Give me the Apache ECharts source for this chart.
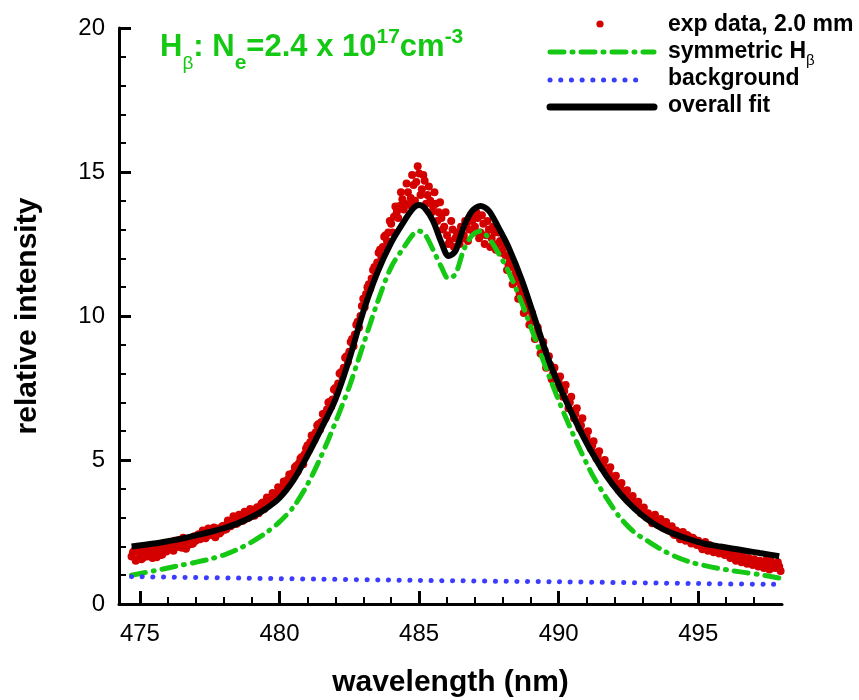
<!DOCTYPE html>
<html><head><meta charset="utf-8">
<script src="https://cdn.jsdelivr.net/npm/echarts@6/dist/echarts.min.js"></script>
<style>html,body{margin:0;padding:0;background:#fff}#chart{width:859px;height:700px}</style>
</head><body><div id="chart"></div>
<script>
// ---- data ----
const expStartA = 474.7, expStartB = 474.75, expStep = 0.1;   // wavelength sampling of the measured spectrum (nm)
const expIntensityA = [
  1.65, 1.85, 1.55,
  1.75, 1.6, 1.9, 1.7, 1.82, 1.95, 1.62, 1.88, 1.72, 2.0,
  1.9, 2.12, 1.85, 2.05, 2.22, 1.95, 2.15, 2.02, 2.28, 2.1,
  2.2, 2.42, 2.3, 2.5, 2.36, 2.58, 2.44, 2.32, 2.62, 2.5,
  2.72, 2.6, 2.86, 2.75, 2.96, 2.82, 3.02, 2.9, 3.12, 3.0,
  3.22, 3.06, 3.36, 3.25, 3.52, 3.42, 3.66, 3.55, 3.82, 3.7,
  3.96, 4.06, 4.2, 4.32, 4.5, 4.56, 4.8, 4.9, 5.1, 5.2,
  5.5, 5.62, 5.85, 5.96, 6.25, 6.32, 6.6, 6.75, 7.02, 7.1,
  7.5, 7.66, 8.05, 8.2, 8.6, 8.76, 9.2, 9.36, 9.8, 10.0,
  10.6, 10.76, 11.1, 11.3, 11.7, 11.86, 12.3, 12.4, 12.8, 12.9,
  13.2, 13.45, 13.6, 13.82, 14.05, 13.9, 14.3, 14.1, 14.55, 14.65,
  14.95, 14.4, 14.7, 14.2, 14.0, 13.8, 13.9, 13.6, 13.4, 13.1,
  12.8, 12.6, 13.0, 12.7, 12.9, 13.1, 12.8, 13.2, 13.0, 13.3,
  13.1, 13.4, 12.9, 13.2, 12.8, 13.0, 12.7, 12.9, 12.5, 12.6,
  12.3, 12.1, 11.8, 11.7, 11.3, 11.2, 10.8, 10.7, 10.3, 10.2,
  9.9, 9.8, 9.4, 9.3, 8.9, 8.8, 8.4, 8.3, 8.0, 7.9,
  7.7, 7.5, 7.4, 7.1, 7.0, 6.7, 6.6, 6.3, 6.2, 5.95,
  5.8, 5.6, 5.5, 5.25, 5.15, 4.9, 4.85, 4.6, 4.55, 4.35,
  4.3, 4.1, 4.05, 3.85, 3.85, 3.65, 3.6, 3.45, 3.4, 3.25,
  3.2, 3.1, 3.15, 2.95, 3.0, 2.85, 2.9, 2.7, 2.8, 2.6,
  2.6, 2.45, 2.55, 2.35, 2.45, 2.3, 2.4, 2.2, 2.3, 2.15,
  2.2, 2.0, 2.1, 1.95, 2.05, 1.9, 1.95, 1.85, 1.9, 1.8,
  1.85, 1.7, 1.75, 1.6, 1.7, 1.55, 1.65, 1.5, 1.6, 1.45,
  1.55, 1.4, 1.5, 1.35, 1.45, 1.3, 1.5, 1.35, 1.4, 1.3
];
const expIntensityB = [
  1.8, 1.5, 1.95,
  1.55, 1.85, 1.65, 2.0, 1.6, 1.78, 1.92, 1.7, 1.98, 1.82,
  2.05, 1.88, 2.2, 1.98, 2.1, 2.3, 1.92, 2.24, 2.08, 2.35,
  2.35, 2.25, 2.55, 2.28, 2.62, 2.4, 2.66, 2.52, 2.45, 2.7,
  2.58, 2.9, 2.7, 3.05, 2.78, 3.1, 2.88, 3.2, 2.98, 3.3,
  3.12, 3.3, 3.15, 3.48, 3.3, 3.7, 3.5, 3.85, 3.62, 4.05,
  3.85, 4.25, 4.08, 4.5, 4.35, 4.75, 4.6, 5.05, 4.85, 5.4,
  5.35, 5.85, 5.7, 6.2, 6.05, 6.6, 6.45, 7.0, 6.85, 7.45,
  7.35, 8.0, 7.9, 8.55, 8.4, 9.1, 8.95, 9.7, 9.6, 10.35,
  10.3, 11.0, 10.95, 11.6, 11.5, 12.2, 12.05, 12.75, 12.6, 13.3,
  12.9, 13.8, 13.4, 14.3, 13.7, 14.6, 13.85, 14.9, 14.0, 15.2,
  14.2, 14.9, 13.9, 14.5, 13.6, 14.3, 13.3, 13.95, 13.0, 13.6,
  12.5, 13.3, 12.4, 12.9, 12.5, 12.7, 13.3, 12.6, 13.5, 12.9,
  13.6, 12.7, 13.5, 12.5, 13.3, 12.4, 13.1, 12.3, 12.9, 12.2,
  12.5, 11.6, 12.0, 11.1, 11.5, 10.6, 11.0, 10.1, 10.5, 9.7,
  10.1, 9.2, 9.6, 8.7, 9.1, 8.2, 8.6, 7.8, 8.2, 7.5,
  7.9, 7.2, 7.6, 6.8, 7.2, 6.45, 6.8, 6.1, 6.45, 5.8,
  6.0, 5.4, 5.65, 5.05, 5.3, 4.75, 5.0, 4.5, 4.75, 4.2,
  4.45, 3.95, 4.2, 3.75, 3.95, 3.55, 3.75, 3.35, 3.55, 3.15,
  3.35, 3.0, 3.05, 2.8, 3.1, 2.75, 2.95, 2.65, 2.85, 2.55,
  2.7, 2.4, 2.5, 2.25, 2.5, 2.2, 2.35, 2.1, 2.25, 2.05,
  2.1, 1.9, 2.15, 1.85, 2.0, 1.8, 1.9, 1.75, 1.95, 1.7,
  1.8, 1.6, 1.72, 1.5, 1.75, 1.45, 1.6, 1.4, 1.55, 1.35,
  1.5, 1.3, 1.45, 1.25, 1.55, 1.2, 1.4, 1.25, 1.45, 1.15
];
const fitWavelength = [474.7, 475.5, 476.0, 476.5, 477.0, 477.5, 478.0, 478.5, 479.0, 479.5,
  480.0, 480.5, 481.0, 481.5, 482.0, 482.5, 483.0, 483.5, 484.0, 484.5, 484.8, 485.0, 485.2,
  485.5, 485.8, 486.05, 486.3, 486.6, 486.9, 487.2, 487.5, 487.8, 488.2, 488.7, 489.2, 489.7,
  490.2, 490.7, 491.2, 491.7, 492.2, 492.7, 493.2, 493.7, 494.2, 494.7, 495.2, 495.7, 496.2,
  496.7, 497.2, 497.9];
const overallFit = [2.00, 2.10, 2.18, 2.27, 2.38, 2.50, 2.63, 2.80, 3.02, 3.30,
  3.68, 4.30, 5.15, 6.10, 7.10, 8.50, 10.15, 11.50, 12.55, 13.35, 13.75, 13.85, 13.75,
  13.30, 12.55, 12.08, 12.25, 13.10, 13.65, 13.82, 13.65, 13.15, 12.40, 11.20, 9.75, 8.32,
  7.19, 6.16, 5.24, 4.46, 3.83, 3.32, 2.92, 2.62, 2.41, 2.24, 2.10, 2.01, 1.93,
  1.85, 1.77, 1.66];
const symmetricHb = [1.00, 1.15, 1.25, 1.35, 1.45, 1.56, 1.70, 1.90, 2.15, 2.46,
  2.85, 3.37, 4.15, 5.15, 6.30, 7.55, 9.00, 10.45, 11.70, 12.45, 12.85, 12.95, 12.85,
  12.30, 11.70, 11.30, 11.45, 12.30, 12.80, 12.95, 12.70, 12.25, 11.55, 10.40, 9.10, 7.80,
  6.60, 5.50, 4.50, 3.70, 3.00, 2.50, 2.18, 1.88, 1.64, 1.46, 1.34, 1.24, 1.16,
  1.09, 1.02, 0.90];
const bgWavelength = [474.7, 480.0, 485.0, 490.0, 495.0, 497.9];
const background = [0.95, 0.88, 0.82, 0.77, 0.71, 0.68];
const xMajorTicks = [475, 480, 485, 490, 495];
const xMinorTicks = [476, 477, 478, 479, 481, 482, 483, 484, 486, 487, 488, 489, 491, 492, 493, 494, 496, 497];
const legendNames = ['exp data, 2.0 mm', 'symmetric H', 'background', 'overall fit'];

// ---- build ----
const FF = '"Liberation Sans", Arial, sans-serif';
const GREEN = '#14c814', RED = '#d40000', BLUE = '#3c3cff';
const expPoints = expIntensityA.map((v, i) => [+(expStartA + i * expStep).toFixed(2), v])
  .concat(expIntensityB.map((v, i) => [+(expStartB + i * expStep).toFixed(2), v]));
const zip = (xs, ys) => xs.map((x, i) => [x, ys[i]]);

const ctx = document.createElement('canvas').getContext('2d');
function run(x0, cy, parts, color) {
  const els = []; let x = x0;
  parts.forEach(p => {
    const font = `${p.w || 'bold'} ${p.s}px ${FF}`;
    ctx.font = font;
    els.push({ type: 'text', x: x, y: cy + (p.dy || 0), style: { text: p.t, font: font, fill: color, align: 'left', verticalAlign: 'middle' } });
    x += ctx.measureText(p.t).width;
  });
  return els;
}
const graphics = [].concat(
  run(160, 47, [
    { t: 'H', s: 31 }, { t: 'β', s: 19, w: 'normal', dy: 17 }, { t: ': N', s: 31 },
    { t: 'e', s: 21, dy: 16 }, { t: '=2.4 x 10', s: 31 }, { t: '17', s: 21, dy: -10 },
    { t: 'cm', s: 31 }, { t: '-3', s: 21, dy: -10 }
  ], GREEN),
  run(668, 25, [{ t: legendNames[0], s: 23 }], '#000'),
  run(668, 52, [{ t: legendNames[1], s: 23 }, { t: 'β', s: 15, w: 'normal', dy: 9 }], '#000'),
  run(668, 79, [{ t: legendNames[2], s: 23 }], '#000'),
  run(668, 106, [{ t: legendNames[3], s: 23 }], '#000'),
  [
    { type: 'circle', shape: { cx: 600, cy: 24, r: 3.6 }, style: { fill: RED } },
    { type: 'line', shape: { x1: 550, y1: 52, x2: 654, y2: 52 }, style: { stroke: GREEN, lineWidth: 5, lineDash: [14, 8, 1, 8], lineCap: 'round' } },
    { type: 'line', shape: { x1: 550, y1: 80, x2: 646, y2: 80 }, style: { stroke: BLUE, lineWidth: 5, lineDash: [0.1, 10.6], lineCap: 'round' } },
    { type: 'line', shape: { x1: 550, y1: 107, x2: 654, y2: 107 }, style: { stroke: '#000', lineWidth: 7, lineCap: 'round' } }
  ]
);

const chart = echarts.init(document.getElementById('chart'), null, { renderer: 'canvas' });
chart.setOption({
  animation: false,
  backgroundColor: '#fff',
  textStyle: { fontFamily: FF },
  grid: { left: 119, right: 77, top: 28, bottom: 96, containLabel: false, outerBoundsMode: 'none' },
  xAxis: [{
    type: 'value', min: 474.25, max: 498,
    name: 'wavelength (nm)', nameLocation: 'middle', nameGap: 64,
    nameTextStyle: { fontSize: 30, fontWeight: 'bold', color: '#000', fontFamily: FF },
    axisLine: { lineStyle: { color: '#000', width: 3 } },
    axisTick: { inside: true, length: 13, lineStyle: { color: '#000', width: 3 }, customValues: xMajorTicks },
    axisLabel: { customValues: xMajorTicks, fontSize: 24, color: '#000', margin: 18, fontFamily: FF },
    splitLine: { show: false }
  }, {
    type: 'value', min: 474.25, max: 498, position: 'bottom',
    axisLine: { show: false },
    axisTick: { inside: true, length: 7, lineStyle: { color: '#000', width: 2 }, customValues: xMinorTicks },
    axisLabel: { show: false },
    splitLine: { show: false }
  }],
  yAxis: {
    type: 'value', min: 0, max: 20, interval: 5,
    name: 'relative intensity', nameLocation: 'middle', nameGap: 76,
    nameTextStyle: { fontSize: 30, fontWeight: 'bold', color: '#000', fontFamily: FF },
    axisLine: { show: true, lineStyle: { color: '#000', width: 3 } },
    axisTick: { show: true, inside: true, length: 12, lineStyle: { color: '#000', width: 3 } },
    minorTick: { show: true, splitNumber: 5, length: 7, lineStyle: { color: '#000', width: 2 } },
    axisLabel: { fontSize: 24, color: '#000', margin: 14, fontFamily: FF },
    splitLine: { show: false }
  },
  series: [
    { name: legendNames[0], type: 'scatter', xAxisIndex: 0, data: expPoints, symbol: 'circle', symbolSize: 8, itemStyle: { color: RED, opacity: 1 } },
    { name: legendNames[1], type: 'line', xAxisIndex: 0, data: zip(fitWavelength, symmetricHb), smooth: 0.3, showSymbol: false,
      lineStyle: { color: GREEN, width: 5, type: [14, 8, 1, 8], cap: 'round' } },
    { name: legendNames[2], type: 'line', xAxisIndex: 0, data: zip(bgWavelength, background), smooth: 0.3, showSymbol: false,
      lineStyle: { color: BLUE, width: 5, type: [0.1, 10.6], cap: 'round' } },
    { name: legendNames[3], type: 'line', xAxisIndex: 0, data: zip(fitWavelength, overallFit), smooth: 0.3, showSymbol: false,
      lineStyle: { color: '#000', width: 6 } }
  ],
  graphic: graphics
});
</script>
</body></html>
